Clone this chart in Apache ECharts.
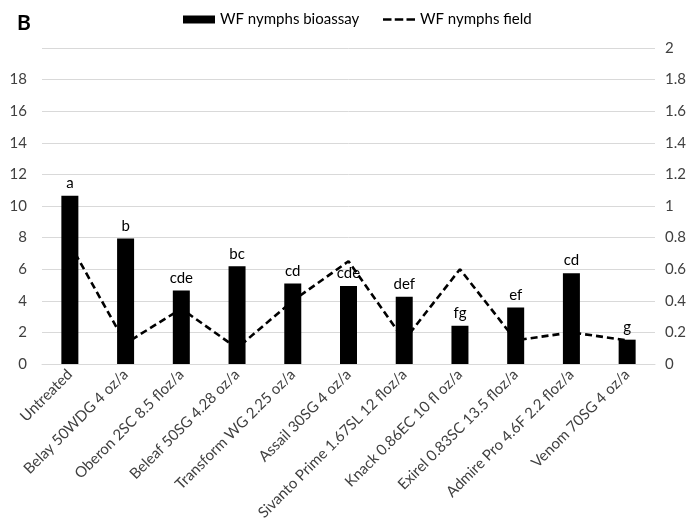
<!DOCTYPE html>
<html>
<head>
<meta charset="utf-8">
<script src="https://cdn.jsdelivr.net/npm/echarts@6/dist/echarts.min.js"></script>
<style>
html,body{margin:0;padding:0;background:#fff;}
#c{width:689px;height:527px;}
</style>
</head>
<body>
<div id="c"></div>
<script>
const categories = ['Untreated','Belay 50WDG 4 oz/a','Oberon 2SC 8.5 floz/a','Beleaf 50SG 4.28 oz/a','Transform WG 2.25 oz/a','Assail 30SG 4 oz/a','Sivanto Prime 1.67SL 12 floz/a','Knack 0.86EC 10 fl oz/a','Exirel 0.83SC 13.5 floz/a','Admire Pro 4.6F 2.2 floz/a','Venom 70SG 4 oz/a'];
const bioassay = [10.65, 7.94, 4.65, 6.19, 5.09, 4.93, 4.25, 2.42, 3.58, 5.75, 1.54];
const letters = ['a','b','cde','bc','cd','cde','def','fg','ef','cd','g'];
const field = [0.76, 0.13, 0.35, 0.10, 0.40, 0.65, 0.15, 0.60, 0.15, 0.20, 0.15];
const leftTicks = {min: 0, max: 20, interval: 2};
const rightTicks = {min: 0, max: 2, interval: 0.2};

const FONT = 'Lato';
const FS = 15;
const chart = echarts.init(document.getElementById('c'), null, {renderer: 'canvas'});
chart.setOption({
  animation: false,
  backgroundColor: '#fff',
  textStyle: {fontFamily: FONT},
  title: {
    text: 'B', left: 12, top: 8,
    textStyle: {fontFamily: FONT, fontSize: 21, fontWeight: 'bold', color: '#000'}
  },
  legend: [
    {
      left: 178, top: 7,
      itemWidth: 32, itemHeight: 8,
      textStyle: {fontFamily: FONT, fontSize: FS, color: '#000'},
      data: [{name: 'WF nymphs bioassay', icon: 'rect'}]
    },
    {
      left: 378, top: 7,
      itemWidth: 32, itemHeight: 8,
      textStyle: {fontFamily: FONT, fontSize: FS, color: '#000'},
      data: [{name: 'WF nymphs field',
        icon: 'path://M0,0M32,8M0,2.7h8.5v2.6h-8.5zM11.75,2.7h8.5v2.6h-8.5zM23.5,2.7h8.5v2.6h-8.5z'}]
    }
  ],
  grid: {left: 42, right: 34, top: 48, bottom: 163, containLabel: false},
  xAxis: {
    type: 'category',
    data: categories,
    axisLine: {lineStyle: {color: '#d9d9d9', width: 1}},
    axisTick: {show: false},
    axisLabel: {
      rotate: 45, interval: 0, margin: 8,
      fontFamily: FONT, fontSize: FS, color: '#404040'
    }
  },
  yAxis: [
    {
      type: 'value', min: leftTicks.min, max: leftTicks.max, interval: leftTicks.interval,
      axisLine: {show: false}, axisTick: {show: false},
      splitLine: {lineStyle: {color: '#d9d9d9', width: 1}},
      axisLabel: {showMaxLabel: false, margin: 15, fontFamily: FONT, fontSize: FS, color: '#404040'}
    },
    {
      type: 'value', min: rightTicks.min, max: rightTicks.max, interval: rightTicks.interval,
      axisLine: {show: false}, axisTick: {show: false},
      splitLine: {show: false},
      axisLabel: {margin: 10, fontFamily: FONT, fontSize: FS, color: '#404040',
        formatter: v => String(Math.round(v * 10) / 10)}
    }
  ],
  series: [
    {
      name: 'WF nymphs bioassay',
      type: 'bar',
      yAxisIndex: 0,
      barWidth: 17,
      itemStyle: {color: '#000'},
      label: {
        show: true, position: 'top', distance: 5,
        fontFamily: FONT, fontSize: FS, color: '#000',
        formatter: p => letters[p.dataIndex]
      },
      data: bioassay,
      z: 2
    },
    {
      name: 'WF nymphs field',
      type: 'line',
      yAxisIndex: 1,
      symbol: 'none',
      lineStyle: {color: '#000', width: 2.6, type: [7, 4]},
      itemStyle: {color: '#000'},
      data: field,
      z: 3
    }
  ]
});
</script>
</body>
</html>
